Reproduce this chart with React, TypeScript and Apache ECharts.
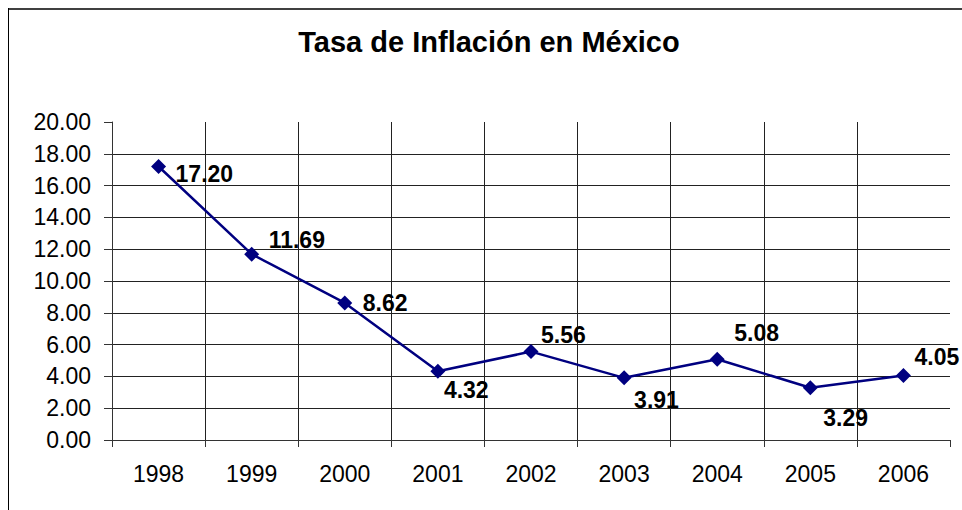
import React, { useEffect, useRef } from "react";
import * as echarts from "echarts";

const years = ["1998", "1999", "2000", "2001", "2002", "2003", "2004", "2005", "2006"];
const inflation = [17.2, 11.69, 8.62, 4.32, 5.56, 3.91, 5.08, 3.29, 4.05];
const labelOffsets: [number, number][] = [
  [17, 7],
  [17, -14],
  [18, 0],
  [6, 19],
  [10, -17],
  [10, 22],
  [17, -26],
  [13, 30],
  [11, -19],
];
const titleText = "Tasa de Inflación en México";
const FONT = "'Liberation Sans', Arial, Helvetica, sans-serif";

export default function App() {
  const ref = useRef<HTMLDivElement>(null);
  useEffect(() => {
    if (!ref.current) return;
    const chart = echarts.init(ref.current, undefined, { renderer: "svg" });
    chart.setOption({
      animation: false,
      backgroundColor: "#ffffff",
      textStyle: { fontFamily: FONT },
      graphic: [
        { type: "line", shape: { x1: 0, y1: 1, x2: 954, y2: 1 }, style: { stroke: "#000", lineWidth: 1.5 } },
        { type: "line", shape: { x1: 0.5, y1: 0, x2: 0.5, y2: 502 }, style: { stroke: "#000", lineWidth: 1 } },
        {
          type: "text",
          x: 481,
          y: 34,
          style: {
            text: titleText,
            align: "center",
            verticalAlign: "middle",
            font: `bold 29px ${FONT}`,
            fill: "#000",
          },
        },
      ],
      grid: { left: 104, top: 114, right: 12, bottom: 70, containLabel: false },
      xAxis: {
        type: "category",
        data: years,
        boundaryGap: true,
        axisLine: { show: true, lineStyle: { color: "#333", width: 1 } },
        axisTick: { show: true, length: 7, alignWithLabel: false, lineStyle: { color: "#333" } },
        axisLabel: { fontSize: 23, color: "#000", margin: 22, fontFamily: FONT },
        splitLine: {
          show: true,
          interval: 0,
          showMinLine: false,
          showMaxLine: false,
          lineStyle: { color: "#222", width: 1 },
        },
      },
      yAxis: {
        type: "value",
        min: 0,
        max: 20,
        interval: 2,
        axisLine: { show: true, lineStyle: { color: "#333", width: 1 } },
        axisTick: { show: true, length: 8, lineStyle: { color: "#333" } },
        axisLabel: {
          fontSize: 23,
          color: "#000",
          margin: 21,
          fontFamily: FONT,
          formatter: (v: number) => v.toFixed(2),
        },
        splitLine: {
          show: true,
          showMaxLine: false,
          lineStyle: { color: "#222", width: 1 },
        },
      },
      series: [
        {
          type: "line",
          data: inflation.map((v, i) => ({
            value: v,
            label: { offset: labelOffsets[i] },
          })),
          lineStyle: { color: "#000080", width: 2.5 },
          itemStyle: { color: "#000080" },
          symbol: "diamond",
          symbolSize: 15,
          label: {
            show: true,
            position: "inside",
            align: "left",
            verticalAlign: "middle",
            fontSize: 23,
            fontWeight: "bold",
            color: "#000",
            fontFamily: FONT,
            formatter: (p: any) => Number(p.value).toFixed(2),
          },
        },
      ],
    });
    return () => chart.dispose();
  }, []);
  return (
    <div
      ref={ref}
      style={{ position: "fixed", left: 8, top: 8, width: 954, height: 502 }}
    />
  );
}
